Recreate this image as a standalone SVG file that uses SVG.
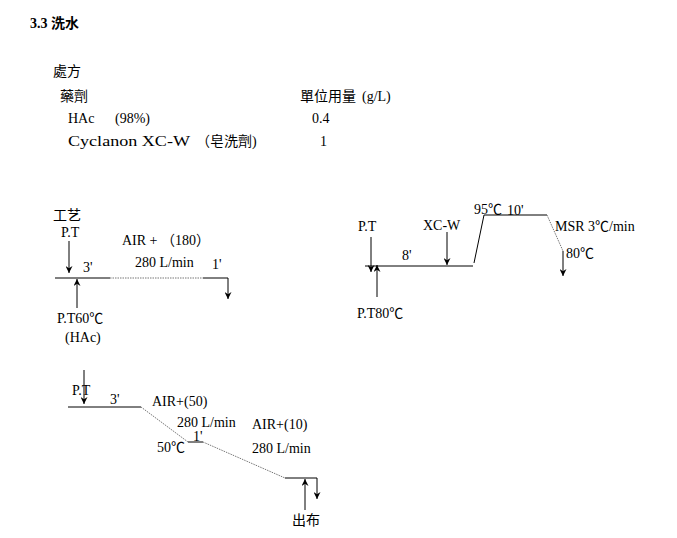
<svg xmlns="http://www.w3.org/2000/svg" width="677" height="538" viewBox="0 0 677 538">
<style>
text{font-family:"Liberation Serif","Noto Sans CJK TC",serif;font-size:14px;fill:#000}
.cjk{font-family:"Noto Sans CJK TC","Liberation Serif",sans-serif;font-size:14px}
.title{font-weight:bold;font-size:14px}
.ln{fill:none;stroke:#000;stroke-width:1}
.dot{fill:none;stroke:#777;stroke-width:1;stroke-dasharray:1.5 1}
.ar{marker-end:url(#arr)}
</style>
<defs>
<marker id="arr" viewBox="0 0 8 8" refX="8" refY="4" markerWidth="7" markerHeight="7" orient="auto" markerUnits="userSpaceOnUse">
<path d="M0,0 L8,4 L0,8 L2.5,4 z" fill="#000"/>
</marker>
</defs>
<rect width="677" height="538" fill="#fff"/>

<g id="header">
<text x="30" y="28" class="title">3.3</text>
<text x="51" y="28" class="cjk" font-weight="bold" font-size="16">洗水</text>
</g>

<g id="recipe">
<text x="53" y="76" class="cjk">處方</text>
<text x="60" y="101" class="cjk">藥劑</text>
<text x="300" y="101" class="cjk">單位用量</text>
<text x="362" y="101">(g/L)</text>
<text x="68" y="123">HAc</text>
<text x="115" y="123">(98%)</text>
<text x="312" y="123">0.4</text>
<text x="68" y="146" textLength="122" lengthAdjust="spacingAndGlyphs">Cyclanon XC-W</text>
<text x="196" y="146"><tspan class="cjk">（皂洗劑</tspan>)</text>
<text x="320" y="146">1</text>
</g>

<g id="connectors">
<!-- process 1 -->
<path class="ln ar" d="M69,241 V273"/>
<path class="ln ar" d="M77,308 V279"/>
<path class="ln" d="M55,278 H110"/>
<path class="dot" d="M110,278 H203"/>
<path class="ln ar" d="M203,278 H228 V299"/>
<!-- process 2 -->
<path class="ln ar" d="M371,237 V272"/>
<path class="ln ar" d="M377,297 V265"/>
<path class="ln" d="M365,266 H473"/>
<path class="ln ar" d="M447,232 V265"/>
<path class="ln" d="M474,263 L484,215 H547"/>
<path class="dot" d="M547,215 L563,251"/>
<path class="ln ar" d="M563,251 V276"/>
<!-- process 3 -->
<path class="ln ar" d="M84,370 V404"/>
<path class="ln" d="M68,407 H141"/>
<path class="dot" d="M141,407 L188,442"/>
<path class="ln" d="M188,442 H203"/>
<path class="dot" d="M203,442 L285,478"/>
<path class="ln ar" d="M285,478 H317 V499"/>
<path class="ln ar" d="M305,510 V479"/>
</g>

<g id="process1">
<text x="53" y="220" class="cjk" font-size="15">工艺</text>
<text x="61" y="237">P.T</text>
<text x="83" y="272">3'</text>
<text x="122" y="245">AIR + <tspan class="cjk">（</tspan>180<tspan class="cjk">）</tspan></text>
<text x="135" y="267">280 L/min</text>
<text x="212" y="269">1'</text>
<text x="57" y="323">P.T60℃</text>
<text x="65" y="342">(HAc)</text>
</g>

<g id="process2">
<text x="358" y="231">P.T</text>
<text x="402" y="260">8'</text>
<text x="423" y="230">XC-W</text>
<text x="357" y="318">P.T80℃</text>
<text x="474" y="214">95℃</text>
<text x="507" y="215">10'</text>
<text x="555" y="231">MSR 3℃/min</text>
<text x="566" y="258">80℃</text>
</g>

<g id="process3">
<text x="72" y="395">P.T</text>
<text x="110" y="404">3'</text>
<text x="152" y="406">AIR+(50)</text>
<text x="177" y="427">280 L/min</text>
<text x="193" y="441">1'</text>
<text x="252" y="429">AIR+(10)</text>
<text x="157" y="452">50℃</text>
<text x="252" y="453">280 L/min</text>
<text x="292" y="525" class="cjk" font-size="15">出布</text>
</g>
</svg>
